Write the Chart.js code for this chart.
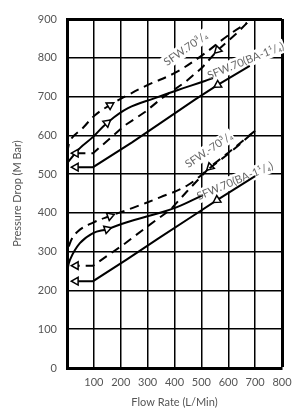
<!DOCTYPE html>
<html>
<head>
<meta charset="utf-8">
<script src="https://cdn.jsdelivr.net/npm/chart.js@4.4.0/dist/chart.umd.min.js"></script>
<style>
  html, body { margin: 0; padding: 0; background: #fff; }
  #wrap { position: relative; width: 303px; height: 415px; }
</style>
</head>
<body>
<div id="wrap"><canvas id="pressureChart"></canvas></div>
<script>
// axis ticks
const xTicks = [0, 100, 200, 300, 400, 500, 600, 700, 800];
const yTicks = [0, 100, 200, 300, 400, 500, 600, 700, 800, 900];

// upper pair of curves - flow rising (left to right)
const hiDashUpX = [0, 15, 59, 104, 160, 227, 301, 401, 500, 600, 670];
const hiDashUpY = [555, 590, 619, 652, 678, 704, 730, 761, 805, 858, 890];
const hiSolidUpX = [0, 48, 97, 149, 227, 327, 413, 513, 543];
const hiSolidUpY = [528, 567, 596, 632, 670, 696, 717, 740, 748];
// upper pair - flow falling (right to left)
const hiDashDownX = [670, 636, 561, 502, 439, 353, 290, 216, 97, 33];
const hiDashDownY = [890, 866, 820, 774, 737, 696, 660, 626, 554, 554];
const hiSolidDownX = [680, 561, 476, 353, 242, 97, 33];
const hiSolidDownY = [779, 730, 692, 634, 582, 518, 518];

// lower pair - flow rising
const loDashUpX = [0, 10, 40, 97, 160, 245, 346, 446, 530, 617, 700];
const loDashUpY = [275, 320, 352, 375, 392, 413, 440, 470, 515, 562, 612];
const loSolidUpX = [0, 11, 48, 97, 149, 223, 320, 409, 506];
const loSolidUpY = [245, 279, 322, 348, 358, 376, 395, 415, 446];
// lower pair - flow falling
const loDashDownX = [700, 600, 532, 446, 383, 297, 208, 97, 33];
const loDashDownY = [612, 555, 518, 455, 407, 364, 317, 264, 264];
const loSolidDownX = [700, 558, 468, 346, 223, 97, 33];
const loSolidDownY = [495, 433, 392, 337, 280, 224, 224];

// curve names written along the lines
const curveNames = ['SFW.70³/₄', 'SFW.70(BA-1¹/₄)', 'SFW.-70³/₄', 'SFW.70(BA-1¹/₄)'];
const nameX = [442, 665, 528, 625];
const nameY = [823, 792, 562, 482];
const nameAngle = [-35, -22, -34, -23];

const FONT = 'Lato, "DejaVu Sans", sans-serif';

function arrowAngle(c) {
    const pts = c.dataset.data;
    const i = c.dataIndex;
    const sx = c.chart.scales.x, sy = c.chart.scales.y;
    const a = pts[Math.max(i - 1, 0)];
    const b = pts[Math.min(i + 1, pts.length - 1)];
    const dx = sx.getPixelForValue(b.x) - sx.getPixelForValue(a.x);
    const dy = sy.getPixelForValue(b.y) - sy.getPixelForValue(a.y);
    return Math.atan2(dx, -dy) * 180 / Math.PI;
}

function curve(xs, ys, dashed, arrowAt, tension) {
    return {
        data: xs.map((v, i) => ({ x: v, y: ys[i] })),
        showLine: true,
        borderColor: '#000',
        borderWidth: 2,
        borderDash: dashed ? [9, 6] : [],
        tension: tension,
        pointStyle: 'triangle',
        pointRadius: c => arrowAt.includes(c.dataIndex) ? 4.5 : 0,
        pointBackgroundColor: '#fff',
        pointBorderColor: '#000',
        pointBorderWidth: 1.5,
        pointRotation: arrowAngle
    };
}

const curveNamePlugin = {
    id: 'curveNames',
    beforeDatasetsDraw(chart) {
        const { ctx, scales: { x, y } } = chart;
        ctx.save();
        ctx.font = '11px ' + FONT;
        curveNames.forEach((txt, i) => {
            ctx.save();
            ctx.translate(x.getPixelForValue(nameX[i]), y.getPixelForValue(nameY[i]));
            ctx.rotate(nameAngle[i] * Math.PI / 180);
            const w = ctx.measureText(txt).width;
            ctx.fillStyle = '#fff';
            ctx.fillRect(-w / 2 - 1, -7, w + 2, 14);
            ctx.restore();
        });
        ctx.restore();
    },
    afterDatasetsDraw(chart) {
        const { ctx, scales: { x, y } } = chart;
        ctx.save();
        ctx.font = '11px ' + FONT;
        ctx.textAlign = 'center';
        ctx.textBaseline = 'middle';
        ctx.fillStyle = '#666';
        curveNames.forEach((txt, i) => {
            ctx.save();
            ctx.translate(x.getPixelForValue(nameX[i]), y.getPixelForValue(nameY[i]));
            ctx.rotate(nameAngle[i] * Math.PI / 180);
            ctx.fillText(txt, 0, 0);
            ctx.restore();
        });
        ctx.restore();
    }
};

const ctx = document.getElementById('pressureChart').getContext('2d');
new Chart(ctx, {
    type: 'scatter',
    data: {
        datasets: [
            curve(hiDashUpX, hiDashUpY, true, [4], 0.4),
            curve(hiDashDownX, hiDashDownY, true, [2, 9], 0),
            curve(hiSolidUpX, hiSolidUpY, false, [3], 0.4),
            curve(hiSolidDownX, hiSolidDownY, false, [1, 6], 0),
            curve(loDashUpX, loDashUpY, true, [4], 0.4),
            curve(loDashDownX, loDashDownY, true, [2, 8], 0),
            curve(loSolidUpX, loSolidUpY, false, [4], 0.4),
            curve(loSolidDownX, loSolidDownY, false, [1, 6], 0)
        ]
    },
    options: {
        responsive: true,
        maintainAspectRatio: false,
        animation: false,
        events: [],
        layout: { padding: { top: 19, right: 21, left: 0, bottom: 0 } },
        plugins: {
            legend: { display: false },
            tooltip: { enabled: false }
        },
        scales: {
            x: {
                type: 'linear',
                min: 0,
                max: 800,
                afterBuildTicks: s => { s.ticks = xTicks.map(v => ({ value: v })); },
                afterFit: s => { s.height = 47; },
                ticks: {
                    color: '#555',
                    font: { family: FONT, size: 11 },
                    padding: 8,
                    maxRotation: 0,
                    callback: v => v === 0 ? '' : v
                },
                grid: {
                    color: '#000',
                    lineWidth: c => (c.tick && c.tick.value === 800) ? 3 : 1.5,
                    drawTicks: false
                },
                border: { display: true, color: '#000', width: 3 },
                title: {
                    display: true,
                    text: 'Flow Rate (L/Min)',
                    color: '#555',
                    font: { family: FONT, size: 11 },
                    padding: { top: 0, bottom: 6 }
                }
            },
            y: {
                min: 0,
                max: 900,
                afterBuildTicks: s => { s.ticks = yTicks.map(v => ({ value: v })); },
                afterFit: s => { s.width = 67; },
                ticks: {
                    color: '#555',
                    font: { family: FONT, size: 11 },
                    padding: 10
                },
                grid: {
                    color: '#000',
                    lineWidth: c => (c.tick && c.tick.value === 900) ? 3 : 1.5,
                    drawTicks: false
                },
                border: { display: true, color: '#000', width: 3 },
                title: {
                    display: true,
                    text: 'Pressure Drop (M Bar)',
                    color: '#555',
                    font: { family: FONT, size: 11 },
                    padding: { top: 11, bottom: 0 }
                }
            }
        }
    },
    plugins: [curveNamePlugin]
});
</script>
</body>
</html>
